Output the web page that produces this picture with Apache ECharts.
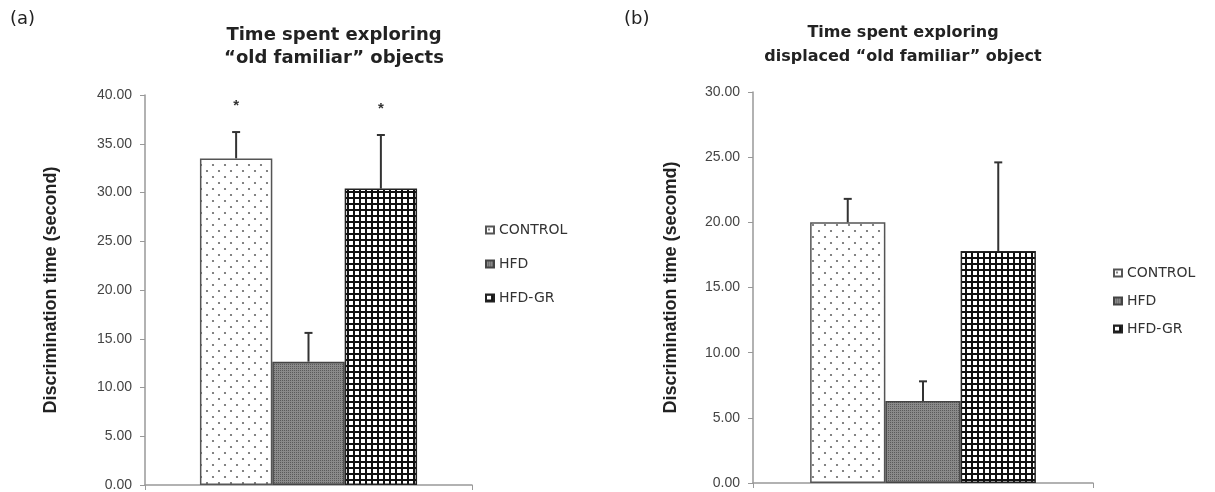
<!DOCTYPE html>
<html>
<head>
<meta charset="utf-8">
<script src="https://cdn.jsdelivr.net/npm/echarts@6/dist/echarts.min.js"></script>
<style>
html, body { margin: 0; padding: 0; background: #fff; }
#container { width: 1215px; height: 492px; }
</style>
</head>
<body>
<div id="container"></div>
<script>
// groups, shared by both panels
var groups = ['CONTROL', 'HFD', 'HFD-GR'];

// (a) time spent exploring "old familiar" objects
var meanA = [33.5, 12.65, 30.4];
var errA = [2.7, 2.95, 5.5];
var starA = ['*', '', '*'];
var ticksA = [0, 5, 10, 15, 20, 25, 30, 35, 40];

// (b) time spent exploring displaced "old familiar" object
var meanB = [20.0, 6.3, 17.8];
var errB = [1.8, 1.5, 6.8];
var starB = ['', '', ''];
var ticksB = [0, 5, 10, 15, 20, 25, 30];

var catGap = 0.336;

// fill patterns like the excel ones
var makeTile = function(w, h, draw){
    var c = document.createElement('canvas');
    c.width = w; c.height = h;
    draw(c.getContext('2d'));
    return c;
}
var dotTile = makeTile(12, 12, function(ctx){
    ctx.fillStyle = '#fff';
    ctx.fillRect(0, 0, 12, 12);
    ctx.fillStyle = '#666';
    ctx.beginPath(); ctx.arc(3, 3, 1.1, 0, Math.PI * 2); ctx.fill();
    ctx.beginPath(); ctx.arc(9, 9, 1.1, 0, Math.PI * 2); ctx.fill();
});
var greyTile = makeTile(2, 2, function(ctx){
    ctx.fillStyle = '#8a8a8a';
    ctx.fillRect(0, 0, 2, 2);
    ctx.fillStyle = '#5a5a5a';
    ctx.fillRect(0, 0, 1, 1);
});
var gridTile = makeTile(6, 6, function(ctx){
    ctx.fillStyle = '#111';
    ctx.fillRect(0, 0, 6, 6);
    ctx.fillStyle = '#fff';
    ctx.fillRect(1, 1, 4, 4);
});
var fills = [
    { image: dotTile, repeat: 'repeat' },
    { image: greyTile, repeat: 'repeat' },
    { image: gridTile, repeat: 'repeat' }
];
var borders = ['#555', '#444', '#222'];

var dom = document.getElementById('container');
var myChart = echarts.init(dom);

var errorItem = function(stars){
    return function(params, api){
        var k = api.value(3);
        var mean = api.value(1);
        var top = api.value(2);
        var band = api.size([1, 0])[0];
        var barW = band * (1 - catGap) / 3;
        var base = api.coord([0, mean]);
        var x = base[0] + (k - 1) * barW;
        var yTop = api.coord([0, top])[1];
        var st = { stroke: '#333', lineWidth: 2 };
        var children = [
            { type: 'line', shape: { x1: x, y1: base[1], x2: x, y2: yTop }, style: st },
            { type: 'line', shape: { x1: x - 4, y1: yTop, x2: x + 4, y2: yTop }, style: st }
        ];
        if (stars[k]) {
            children.push({
                type: 'text', x: x, y: yTop - 26,
                style: { text: stars[k], textAlign: 'center', textVerticalAlign: 'middle',
                         fontSize: 15, fontWeight: 'bold', fontFamily: 'Liberation Sans', fill: '#333' }
            });
        }
        return { type: 'group', children: children };
    }
}

var yAxisFor = function(idx, ticks, name, gap){
    return {
        type: 'value', gridIndex: idx,
        min: ticks[0], max: ticks[ticks.length - 1], interval: ticks[1] - ticks[0],
        name: name, nameLocation: 'middle', nameGap: gap,
        nameTextStyle: { fontFamily: 'Liberation Sans', fontWeight: 'bold', fontSize: 18, color: '#222' },
        axisLine: { show: true, lineStyle: { color: '#999', width: 1.5 } },
        axisTick: { show: true, length: 5, lineStyle: { color: '#999' } },
        axisLabel: {
            margin: 13, color: '#444', fontSize: 14, fontFamily: 'Liberation Sans',
            formatter: function(v){ return v.toFixed(2); }
        },
        splitLine: { show: false }
    }
}
var xAxisFor = function(idx){
    return {
        type: 'category', gridIndex: idx, data: [''],
        axisLine: { lineStyle: { color: '#999', width: 1.5 } },
        axisTick: { show: true, length: 5, lineStyle: { color: '#999' } },
        axisLabel: { show: false }
    }
}

var series = [];
var addPanel = function(idx, mean, err, stars){
    groups.forEach(function(g, k){
        series.push({
            name: g, type: 'bar', xAxisIndex: idx, yAxisIndex: idx,
            barGap: '0%', barCategoryGap: (catGap * 100) + '%',
            data: [mean[k]],
            itemStyle: { color: fills[k], borderColor: borders[k], borderWidth: 1.5 },
            emphasis: { disabled: true }
        });
    });
    var errData = mean.map(function(m, k){ return [0, m, m + err[k], k]; });
    series.push({
        type: 'custom', xAxisIndex: idx, yAxisIndex: idx, z: 5,
        encode: { x: 0, y: [1, 2] },
        data: errData,
        renderItem: errorItem(stars)
    });
}
addPanel(0, meanA, errA, starA);
addPanel(1, meanB, errB, starB);

var legendText = { fontFamily: 'DejaVu Sans', fontSize: 14, color: '#333' };

option = {
    animation: false,
    backgroundColor: '#fff',
    grid: [
        { left: 145, top: 95, width: 327, height: 391 },
        { left: 753, top: 92, width: 340, height: 391 }
    ],
    xAxis: [xAxisFor(0), xAxisFor(1)],
    yAxis: [
        yAxisFor(0, ticksA, 'Discrimination time (second)', 85),
        yAxisFor(1, ticksB, 'Discrimination time (secomd)', 73)
    ],
    legend: [
        { data: groups, orient: 'vertical', left: 480, top: 218, itemGap: 20,
          icon: 'rect', itemWidth: 8, itemHeight: 7, textStyle: legendText },
        { data: groups, orient: 'vertical', left: 1108, top: 261, itemGap: 14,
          icon: 'rect', itemWidth: 8, itemHeight: 7, textStyle: legendText }
    ],
    graphic: [
        { type: 'text', left: 10, top: 10,
          style: { text: '(a)', fontSize: 18, fontFamily: 'DejaVu Sans', fill: '#222' } },
        { type: 'text', left: 624, top: 10,
          style: { text: '(b)', fontSize: 18, fontFamily: 'DejaVu Sans', fill: '#222' } },
        { type: 'text', x: 334, y: 24,
          style: { text: 'Time spent exploring\n\u201Cold familiar\u201D objects', textAlign: 'center',
                   fontSize: 18, fontWeight: 'bold', fontFamily: 'DejaVu Sans', lineHeight: 23, fill: '#222' } },
        { type: 'text', x: 903, y: 21,
          style: { text: 'Time spent exploring\ndisplaced \u201Cold familiar\u201D object', textAlign: 'center',
                   fontSize: 16, fontWeight: 'bold', fontFamily: 'DejaVu Sans', lineHeight: 24, fill: '#222' } }
    ],
    series: series
};

myChart.setOption(option, true);
</script>
</body>
</html>
